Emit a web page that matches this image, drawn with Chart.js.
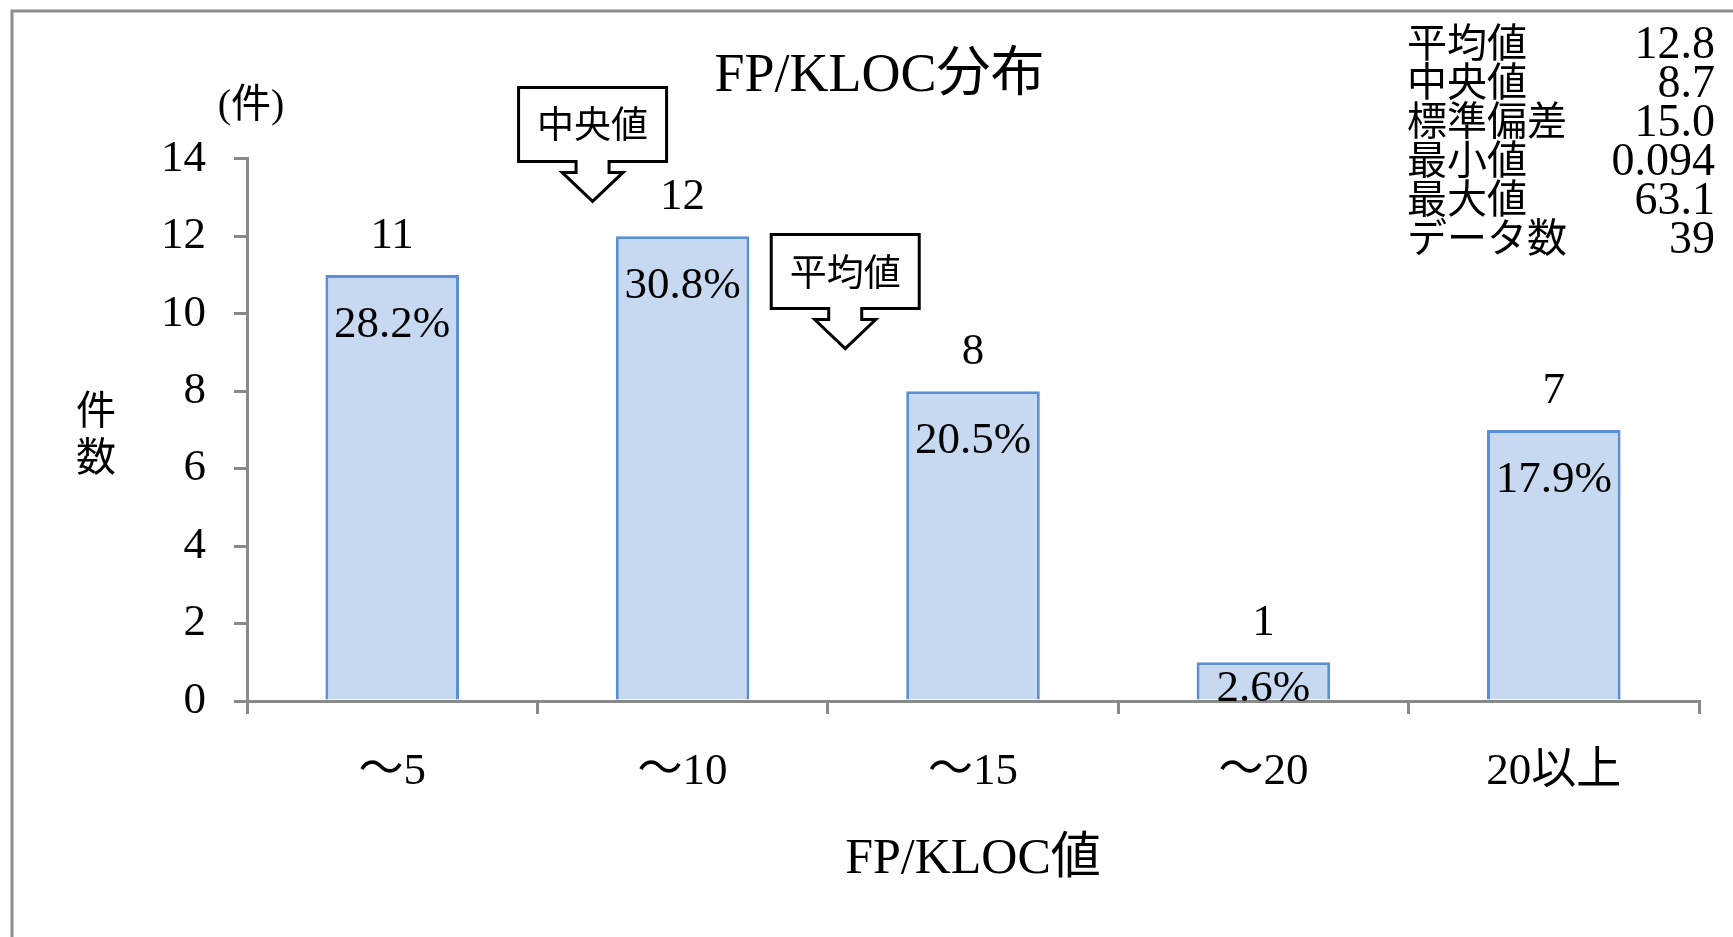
<!DOCTYPE html>
<html>
<head>
<meta charset="utf-8">
<script src="https://cdn.jsdelivr.net/npm/chart.js@4"></script>
<style>
  html, body { margin: 0; padding: 0; background: #fff; }
  canvas { display: block; }
</style>
</head>
<body>
<canvas id="myChart" width="1733" height="937"></canvas>
<script>
// 데이터
const categories = ['～5', '～10', '～15', '～20', '20以上'];
const counts = [11, 12, 8, 1, 7];
const percentLabels = ['28.2%', '30.8%', '20.5%', '2.6%', '17.9%'];
const yTicks = [0, 2, 4, 6, 8, 10, 12, 14];

// 오른쪽 위 통계표
const statLabels = ['平均値', '中央値', '標準偏差', '最小値', '最大値', 'データ数'];
const statValues = ['12.8', '8.7', '15.0', '0.094', '63.1', '39'];

// 말풍선 (중앙값 / 평균값): 화살표 끝 위치 (x = 카테고리 위치, y = 건수)
const calloutLabels = ['中央値', '平均値'];
const calloutX = [0.69, 1.56];
const calloutY = [12.9, 9.1];

const SERIF = "'Liberation Serif', 'Noto Sans CJK JP', serif";
const GOTHIC = "'Noto Sans CJK JP', sans-serif";
const AXIS_GRAY = '#898989';

function drawCallout(c, label, tx, ty) {
  const boxW = 148, boxH = 74, stemW = 33, stemH = 11, headW = 61, headH = 29;
  const boxBottom = ty - headH - stemH;
  const boxTop = boxBottom - boxH;
  const neck = boxBottom + stemH;
  c.beginPath();
  c.moveTo(tx - boxW / 2, boxTop);
  c.lineTo(tx + boxW / 2, boxTop);
  c.lineTo(tx + boxW / 2, boxBottom);
  c.lineTo(tx + stemW / 2, boxBottom);
  c.lineTo(tx + stemW / 2, neck);
  c.lineTo(tx + headW / 2, neck);
  c.lineTo(tx, ty);
  c.lineTo(tx - headW / 2, neck);
  c.lineTo(tx - stemW / 2, neck);
  c.lineTo(tx - stemW / 2, boxBottom);
  c.lineTo(tx - boxW / 2, boxBottom);
  c.closePath();
  c.fillStyle = '#fff';
  c.fill();
  c.strokeStyle = '#000';
  c.lineWidth = 3;
  c.lineJoin = 'miter';
  c.stroke();
  c.fillStyle = '#000';
  c.font = '37px ' + GOTHIC;
  c.textAlign = 'center';
  c.textBaseline = 'middle';
  c.fillText(label, tx, (boxTop + boxBottom) / 2);
}

const decorations = {
  id: 'decorations',
  beforeDraw(chart) {
    const c = chart.ctx;
    c.save();
    c.fillStyle = '#fff';
    c.fillRect(0, 0, chart.width, chart.height);
    // 바깥 테두리 (왼쪽, 위)
    c.strokeStyle = '#8c8c8c';
    c.lineWidth = 3;
    c.beginPath();
    c.moveTo(12, chart.height);
    c.lineTo(12, 11);
    c.lineTo(chart.width, 11);
    c.stroke();
    c.restore();
  },
  afterDatasetsDraw(chart) {
    const c = chart.ctx;
    const area = chart.chartArea;
    const bars = chart.getDatasetMeta(0).data;
    c.save();
    c.fillStyle = '#000';
    c.textAlign = 'center';
    c.textBaseline = 'middle';
    c.font = '45px ' + SERIF;
    bars.forEach((bar, i) => {
      c.fillText(String(counts[i]), bar.x, bar.y - 39);
      c.fillText(percentLabels[i], bar.x, Math.min(bar.y + 50, bar.base - 10));
    });

    // 말풍선
    const xs = chart.scales.x, ys = chart.scales.y;
    calloutLabels.forEach((label, i) => {
      drawCallout(c, label, xs.getPixelForValue(calloutX[i]), ys.getPixelForValue(calloutY[i]));
    });

    // 세로축 제목 (세로쓰기) + 단위
    c.fillStyle = '#000';
    c.textAlign = 'center';
    c.textBaseline = 'middle';
    c.font = '40px ' + SERIF;
    const midY = (area.top + area.bottom) / 2;
    c.fillText('件', 96, midY - 16);
    c.fillText('数', 96, midY + 31);
    c.fillText('(件)', area.left + 4, area.top - 52);

    // 통계표
    statLabels.forEach((lab, i) => {
      const y = 46 + i * 39;
      c.font = '40px ' + SERIF;
      c.textAlign = 'left';
      c.fillText(lab, 1407, y);
      c.font = '46px ' + SERIF;
      c.textAlign = 'right';
      c.fillText(statValues[i], 1715, y);
    });
    c.restore();
  }
};

Chart.defaults.font.family = SERIF;

const ctx = document.getElementById('myChart').getContext('2d');
new Chart(ctx, {
  type: 'bar',
  data: {
    labels: categories,
    datasets: [{
      data: counts,
      backgroundColor: '#C6D9F0',
      borderColor: '#5B8FD6',
      borderWidth: 3,
      barPercentage: 0.46,
      categoryPercentage: 1
    }]
  },
  options: {
    responsive: false,
    animation: false,
    devicePixelRatio: 1,
    layout: { padding: { left: 60, right: 34, top: 0, bottom: 0 } },
    plugins: {
      legend: { display: false },
      tooltip: { enabled: false },
      title: {
        display: true,
        text: 'FP/KLOC分布',
        color: '#000',
        font: { family: SERIF, size: 54, weight: 'normal' },
        padding: { top: 44, bottom: 50 }
      }
    },
    scales: {
      x: {
        grid: { drawOnChartArea: false, drawTicks: true, tickLength: 13, color: AXIS_GRAY, lineWidth: 3 },
        border: { color: AXIS_GRAY, width: 3 },
        ticks: { color: '#000', font: { family: SERIF, size: 45 }, padding: 31, maxRotation: 0, autoSkip: false },
        title: {
          display: true,
          text: 'FP/KLOC値',
          color: '#000',
          font: { family: SERIF, size: 50 },
          padding: { top: 0, bottom: 47 }
        },
        afterFit: s => { s.height = 236; }
      },
      y: {
        min: 0,
        max: 14,
        afterBuildTicks: s => { s.ticks = yTicks.map(v => ({ value: v })); },
        grid: { drawOnChartArea: false, tickLength: 13, color: AXIS_GRAY, lineWidth: 3 },
        border: { color: AXIS_GRAY, width: 3 },
        ticks: { color: '#000', font: { family: SERIF, size: 45 }, padding: 28 },
        afterFit: s => { s.width = 187; }
      }
    }
  },
  plugins: [decorations]
});
</script>
</body>
</html>
